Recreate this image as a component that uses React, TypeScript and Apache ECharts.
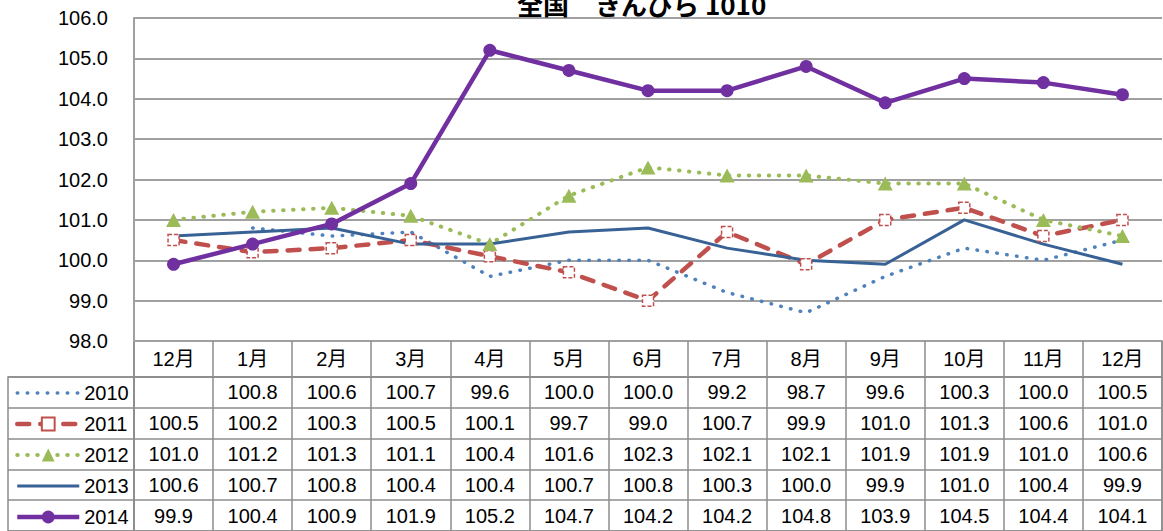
import React, { useEffect, useRef } from "react";
import * as echarts from "echarts";

const months = ["12月", "1月", "2月", "3月", "4月", "5月", "6月", "7月", "8月", "9月", "10月", "11月", "12月"];
const seriesNames = ["2010", "2011", "2012", "2013", "2014"];
const yTicks = { min: 98, max: 106, interval: 1 };

const v2010 = [null, 100.8, 100.6, 100.7, 99.6, 100.0, 100.0, 99.2, 98.7, 99.6, 100.3, 100.0, 100.5];
const v2011 = [100.5, 100.2, 100.3, 100.5, 100.1, 99.7, 99.0, 100.7, 99.9, 101.0, 101.3, 100.6, 101.0];
const v2012 = [101.0, 101.2, 101.3, 101.1, 100.4, 101.6, 102.3, 102.1, 102.1, 101.9, 101.9, 101.0, 100.6];
const v2013 = [100.6, 100.7, 100.8, 100.4, 100.4, 100.7, 100.8, 100.3, 100.0, 99.9, 101.0, 100.4, 99.9];
const v2014 = [99.9, 100.4, 100.9, 101.9, 105.2, 104.7, 104.2, 104.2, 104.8, 103.9, 104.5, 104.4, 104.1];

const allValues = [v2010, v2011, v2012, v2013, v2014];

const FONT = "'Liberation Sans', 'Noto Sans CJK JP', sans-serif";
const LINE_GRAY = "#8c8c8c";
const GRID_GRAY = "#a0a0a0";

export default function App() {
  const ref = useRef<HTMLDivElement>(null);

  useEffect(() => {
    if (!ref.current) return;
    const chart = echarts.init(ref.current, null, { renderer: "svg" });

    const headerCells = months.map((_, c) => [c, 0]);
    const headerTexts = months.slice();
    const bodyCells: number[][] = [];
    const bodyTexts: string[] = [];
    allValues.forEach((row, r) => {
      row.forEach((v, c) => {
        bodyCells.push([c, r]);
        bodyTexts.push(v == null ? "" : (v as number).toFixed(1));
      });
    });

    const makeRender = (texts: string[]) => (params: any, api: any) => {
      const p = api.coord([api.value(0), api.value(1)]);
      return {
        type: "text",
        x: p[0],
        y: p[1],
        style: {
          text: texts[params.dataIndex],
          align: "center",
          verticalAlign: "middle",
          fontSize: 20,
          fontFamily: FONT,
          fill: "#000",
        },
      };
    };

    const option: any = {
      animation: false,
      backgroundColor: "#fff",
      title: {
        text: "全国　きんぴら 1010",
        left: 517,
        top: -10,
        padding: 0,
        textStyle: { fontSize: 26, fontWeight: "bold", fontFamily: "'Noto Sans CJK JP', sans-serif", color: "#000" },
      },
      legend: {
        orient: "vertical",
        left: 15,
        top: 383,
        padding: 0,
        itemWidth: 62,
        itemHeight: 16,
        itemGap: 11,
        selectedMode: false,
        data: seriesNames,
        textStyle: { fontSize: 20, lineHeight: 20, color: "#000", fontFamily: FONT },
        lineStyle: { width: "inherit" },
      },
      grid: [
        { left: 134, top: 18, width: 1028, height: 323 },
        { left: 134, top: 341, width: 1028, height: 36, show: true, borderColor: LINE_GRAY, borderWidth: 1.5 },
        { left: 134, top: 377, width: 1028, height: 155, show: true, borderColor: LINE_GRAY, borderWidth: 1.5 },
        { left: 8, top: 377, width: 126, height: 155, show: true, borderColor: LINE_GRAY, borderWidth: 1.5 },
      ],
      xAxis: [
        {
          gridIndex: 0, type: "category", data: months, boundaryGap: true,
          axisLine: { show: false }, axisTick: { show: false }, axisLabel: { show: false }, splitLine: { show: false },
        },
        {
          gridIndex: 1, type: "category", data: months, boundaryGap: true,
          axisLine: { show: false }, axisTick: { show: false, interval: 0 }, axisLabel: { show: false, interval: 0 },
          splitLine: { show: true, interval: 0, lineStyle: { color: LINE_GRAY, width: 1.5 } },
        },
        {
          gridIndex: 2, type: "category", data: months, boundaryGap: true,
          axisLine: { show: false }, axisTick: { show: false, interval: 0 }, axisLabel: { show: false, interval: 0 },
          splitLine: { show: true, interval: 0, lineStyle: { color: LINE_GRAY, width: 1.5 } },
        },
        {
          gridIndex: 3, type: "value", min: 0, max: 1, show: false,
        },
      ],
      yAxis: [
        {
          gridIndex: 0, type: "value", min: yTicks.min, max: yTicks.max, interval: yTicks.interval,
          axisLine: { show: true, lineStyle: { color: GRID_GRAY, width: 2 } },
          axisTick: { show: false },
          axisLabel: {
            margin: 26, fontSize: 20, color: "#000", fontFamily: FONT,
            formatter: (v: number) => v.toFixed(1),
          },
          splitLine: { show: true, lineStyle: { color: GRID_GRAY, width: 2 } },
        },
        {
          gridIndex: 1, type: "category", data: [""], boundaryGap: true,
          axisLine: { show: false }, axisTick: { show: false }, axisLabel: { show: false }, splitLine: { show: false },
        },
        {
          gridIndex: 2, type: "category", data: seriesNames, inverse: true, boundaryGap: true,
          axisLine: { show: false }, axisTick: { show: false, interval: 0 }, axisLabel: { show: false, interval: 0 },
          splitLine: { show: true, interval: 0, lineStyle: { color: LINE_GRAY, width: 1.5 } },
        },
        {
          gridIndex: 3, type: "category", data: seriesNames, inverse: true, boundaryGap: true,
          axisLine: { show: false }, axisTick: { show: false, interval: 0 }, axisLabel: { show: false, interval: 0 },
          splitLine: { show: true, interval: 0, lineStyle: { color: LINE_GRAY, width: 1.5 } },
        },
      ],
      series: [
        {
          name: "2010", type: "line", xAxisIndex: 0, yAxisIndex: 0, data: v2010,
          symbol: "circle", showSymbol: false, silent: true, connectNulls: false,
          itemStyle: { color: "#4f81bd", opacity: 0 },
          lineStyle: { color: "#4f81bd", width: 3.5, type: [0.5, 9.5], cap: "round" },
        },
        {
          name: "2011", type: "line", xAxisIndex: 0, yAxisIndex: 0, data: v2011,
          symbol: "rect", symbolSize: 11, silent: true,
          itemStyle: { color: "#ffffff", borderColor: "#c0504d", borderWidth: 1.5, borderType: [4, 2] },
          lineStyle: { color: "#c0504d", width: 4.5, type: [12, 11], cap: "round" },
        },
        {
          name: "2012", type: "line", xAxisIndex: 0, yAxisIndex: 0, data: v2012,
          symbol: "triangle", symbolSize: [15, 14], silent: true,
          itemStyle: { color: "#9bbb59" },
          lineStyle: { color: "#9bbb59", width: 4, type: [0.5, 9.5], cap: "round" },
        },
        {
          name: "2013", type: "line", xAxisIndex: 0, yAxisIndex: 0, data: v2013,
          symbol: "circle", showSymbol: false, silent: true,
          itemStyle: { color: "#386195", opacity: 0 },
          lineStyle: { color: "#386195", width: 3 },
        },
        {
          name: "2014", type: "line", xAxisIndex: 0, yAxisIndex: 0, data: v2014,
          symbol: "circle", symbolSize: 13, silent: true,
          itemStyle: { color: "#7030a0" },
          lineStyle: { color: "#7030a0", width: 4.5 },
        },
        {
          type: "custom", xAxisIndex: 1, yAxisIndex: 1, data: headerCells, silent: true,
          renderItem: makeRender(headerTexts),
        },
        {
          type: "custom", xAxisIndex: 2, yAxisIndex: 2, data: bodyCells, silent: true,
          renderItem: makeRender(bodyTexts),
        },
      ],
    };

    chart.setOption(option);
    return () => chart.dispose();
  }, []);

  return (
    <div
      ref={ref}
      style={{ position: "fixed", left: 0, top: 0, width: 1163, height: 531, background: "#fff" }}
    />
  );
}
